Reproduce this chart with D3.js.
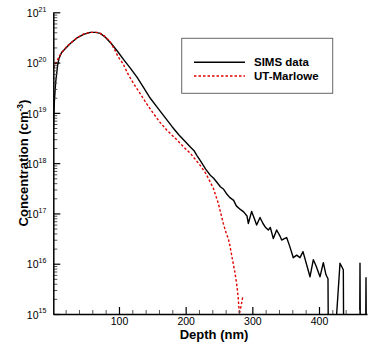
<!DOCTYPE html>
<html>
<head>
<meta charset="utf-8">
<script src="https://cdn.jsdelivr.net/npm/d3@7"></script>
<style>
  body { margin: 0; background: #fff; }
  svg { display: block; font-family: Arial, "Liberation Sans", sans-serif; }
</style>
</head>
<body>
<svg id="chart" width="368" height="347"></svg>
<script>
// depth in nm, concentration as log10(cm^-3)
const simsDepth = [1.5, 3, 5, 8, 10, 14, 19, 27, 37, 47, 57, 65, 72, 80, 89, 98, 107, 117, 127, 137,
  147, 158, 169, 180, 190, 200, 207, 213, 217, 222, 230, 237, 242, 248, 252, 257, 262, 266, 272, 276,
  282, 287, 292, 294, 299, 303, 306.5, 311.5, 316, 320, 324, 327, 331.5, 336.5, 341.5, 344, 348, 351.5,
  356, 361.5, 366.5, 371.5, 376, 381.5, 386.5, 391.5, 395.5, 401.5, 406.5, 410.5, 413.5, 414,
  426, 426.5, 431.5, 436.5, 437, 461, 461.5, 462, 470, 470.5, 471]
const simsLog = [18.6, 19.2, 19.6, 19.95, 20.08, 20.2, 20.27, 20.38, 20.49, 20.56, 20.6, 20.6, 20.58, 20.5, 20.37, 20.22, 20.06, 19.89, 19.71, 19.5,
  19.29, 19.1, 18.91, 18.72, 18.56, 18.42, 18.32, 18.24, 18.15, 18.05, 17.88, 17.76, 17.7, 17.6, 17.53, 17.48, 17.38, 17.32, 17.26, 17.15,
  17.08, 17.03, 16.95, 16.8, 17.04, 16.9, 16.77, 16.92, 16.8, 16.72, 16.67, 16.72, 16.5, 16.67, 16.55, 16.47, 16.5, 16.52,
  16.35, 16.12, 16.17, 16.12, 16.24, 15.98, 15.74, 16.08, 15.96, 15.74, 16.02, 15.78, 15.7, 14.5,
  14.5, 15.0, 16.01, 15.88, 14.5, 14.5, 16.01, 14.5, 14.5, 15.72, 14.5]

const marloweDepth = [1.5, 5, 11.5, 21.5, 36.6, 47, 57, 69, 78, 86.5, 93, 99, 106, 114, 122, 131.5, 141, 151.5,
  161, 171.5, 184, 196.5, 208, 221.5, 229, 234, 241.5, 249, 256.5, 261, 264, 266.5, 270, 274, 277, 279,
  280.5, 283, 285.5]
const marloweLog = [19.89, 19.98, 20.15, 20.32, 20.49, 20.57, 20.6, 20.6, 20.53, 20.42, 20.27, 20.11, 19.98, 19.76, 19.58, 19.39, 19.19, 18.99,
  18.82, 18.66, 18.5, 18.33, 18.18, 17.96, 17.82, 17.7, 17.5, 17.2, 16.8, 16.6, 16.5, 16.35, 16.1, 15.82, 15.55, 15.3,
  15.0, 15.15, 15.33]

const xMajor = [100, 200, 300, 400]
const xMinor = d3.range(20, 480, 20)
const yExponents = [15, 16, 17, 18, 19, 20, 21]
const seriesNames = ['SIMS data', 'UT-Marlowe']

const svg = d3.select('#chart')
const x = d3.scaleLinear().domain([1.5, 472]).range([53.3, 367])
const y = d3.scaleLog().domain([1e15, 1e21]).range([314, 12.3])

const toPoints = (depths, logs) => depths.map((d, i) => [d, Math.pow(10, logs[i])])
const line = d3.line().x((d) => x(d[0])).y((d) => y(d[1]))

svg.append('clipPath').attr('id', 'plot-clip')
  .append('rect')
  .attr('x', x.range()[0]).attr('y', y.range()[1])
  .attr('width', x.range()[1] - x.range()[0]).attr('height', y.range()[0] - y.range()[1])

const plot = svg.append('g').attr('clip-path', 'url(#plot-clip)')

plot.append('path')
  .datum(toPoints(simsDepth, simsLog))
  .attr('d', line)
  .attr('fill', 'none')
  .attr('stroke', '#000')
  .attr('stroke-width', 1.4)
  .attr('stroke-linejoin', 'round')

plot.append('path')
  .datum(toPoints(marloweDepth, marloweLog))
  .attr('d', line)
  .attr('fill', 'none')
  .attr('stroke', '#e00000')
  .attr('stroke-width', 1.4)
  .attr('stroke-dasharray', '2.5,2')

// x axis: minor ticks, then major ticks with labels
svg.append('g')
  .attr('transform', `translate(0,${y.range()[0]})`)
  .call(d3.axisBottom(x).tickValues(xMinor.filter((v) => v % 100 !== 0)).tickSize(-4).tickFormat(''))
  .call((g) => g.select('.domain').remove())
  .call((g) => g.selectAll('.tick line').attr('stroke', '#555'))

svg.append('g')
  .attr('transform', `translate(0,${y.range()[0]})`)
  .call(d3.axisBottom(x).tickValues(xMajor).tickSize(-7).tickSizeOuter(0).tickPadding(4))
  .call((g) => g.select('.domain').attr('stroke-width', 1.5))
  .call((g) => g.selectAll('.tick line').attr('stroke-width', 1.2))
  .call((g) => g.selectAll('.tick text').attr('font-size', 10.5).attr('fill', '#000'))

// y axis: minor ticks per decade
const yMinor = []
yExponents.slice(0, -1).forEach((e) => {
  for (let k = 2; k <= 9; k++) yMinor.push(k * Math.pow(10, e))
})
svg.append('g')
  .attr('transform', `translate(${x.range()[0]},0)`)
  .call(d3.axisLeft(y).tickValues(yMinor).tickSize(-4).tickFormat(''))
  .call((g) => g.select('.domain').remove())
  .call((g) => g.selectAll('.tick line').attr('stroke', '#555'))

const yAxis = svg.append('g')
  .attr('transform', `translate(${x.range()[0]},0)`)
  .call(d3.axisLeft(y).tickValues(yExponents.map((e) => Math.pow(10, e))).tickSize(-7).tickSizeOuter(0).tickPadding(7))
  .call((g) => g.select('.domain').attr('stroke-width', 1.5))
  .call((g) => g.selectAll('.tick line').attr('stroke-width', 1.2))

yAxis.selectAll('.tick text')
  .text(null)
  .attr('font-size', 10.5)
  .attr('fill', '#000')
  .attr('dy', '0.4em')
  .each(function (d) {
    const t = d3.select(this)
    t.append('tspan').text('10')
    t.append('tspan').attr('font-size', 7).attr('dy', '-0.75em').text(Math.round(Math.log10(d)))
  })

// axis titles
svg.append('text')
  .attr('x', 214).attr('y', 338.5)
  .attr('text-anchor', 'middle')
  .attr('font-size', 13).attr('font-weight', 'bold')
  .text('Depth (nm)')

const yTitle = svg.append('text')
  .attr('transform', 'translate(28,163) rotate(-90)')
  .attr('text-anchor', 'middle')
  .attr('font-size', 13).attr('font-weight', 'bold')
yTitle.append('tspan').text('Concentration (cm')
yTitle.append('tspan').attr('font-size', 8.5).attr('dy', -5).text('-3')
yTitle.append('tspan').attr('dy', 5).text(')')

// legend
const legend = svg.append('g').attr('transform', 'translate(181.7,38.3)')
legend.append('rect')
  .attr('width', 151).attr('height', 55)
  .attr('fill', '#fff').attr('stroke', '#666').attr('stroke-width', 1)

const legendStyles = [
  { stroke: '#000', dash: null },
  { stroke: '#e00000', dash: '2.5,2' }
]
seriesNames.forEach((name, i) => {
  const rowY = 24 + i * 13.7
  legend.append('line')
    .attr('x1', 12.3).attr('x2', 63.3)
    .attr('y1', rowY).attr('y2', rowY)
    .attr('stroke', legendStyles[i].stroke)
    .attr('stroke-width', 1.4)
    .attr('stroke-dasharray', legendStyles[i].dash)
  legend.append('text')
    .attr('x', 72.3).attr('y', rowY + 4)
    .attr('font-size', 11.5).attr('font-weight', 'bold')
    .text(name)
})
</script>
</body>
</html>
